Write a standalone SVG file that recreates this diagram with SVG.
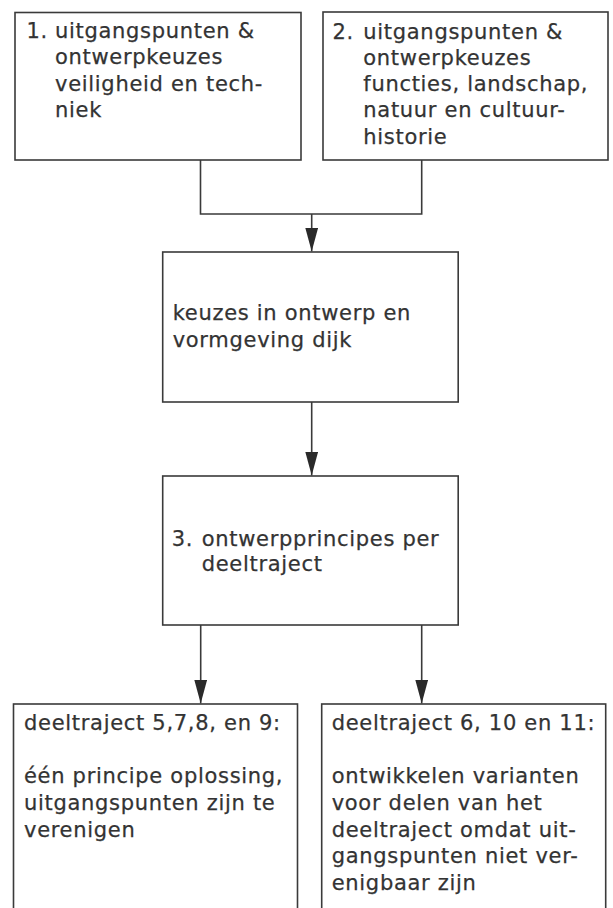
<svg xmlns="http://www.w3.org/2000/svg" width="613" height="908" viewBox="0 0 613 908">
<defs>
<style>
.box{fill:#fff;stroke:#3a3a3a;stroke-width:1.6}
.t{font-family:"DejaVu Sans",sans-serif;font-size:21px;letter-spacing:0.7px;fill:#333;stroke:#333;stroke-width:0.25}
.ln{fill:none;stroke:#3a3a3a;stroke-width:1.6}
</style>
<marker id="ah" viewBox="0 0 24 13" refX="24" refY="6.5" markerWidth="24" markerHeight="13" markerUnits="userSpaceOnUse" orient="auto">
<path d="M0,0 L24,6.5 L0,13 Z" fill="#2a2a2a"/>
</marker>
</defs>
<rect width="613" height="908" fill="#fff"/>
<g id="connectors">
<path class="ln" d="M200.5,160 V214 H421.7 V160"/>
<path class="ln" d="M311.7,214 V251.5" marker-end="url(#ah)"/>
<path class="ln" d="M311.7,402 V475.5" marker-end="url(#ah)"/>
<path class="ln" d="M200.7,625 V703.5" marker-end="url(#ah)"/>
<path class="ln" d="M421.7,625 V703.5" marker-end="url(#ah)"/>
</g>
<g id="n1">
<rect class="box" x="15" y="12.5" width="286" height="147.5"/>
<text class="t" x="26.5" y="37.5">1.</text>
<text class="t" x="55" y="37.5">uitgangspunten &amp;</text>
<text class="t" x="55" y="64">ontwerpkeuzes</text>
<text class="t" x="55" y="90.5">veiligheid en tech-</text>
<text class="t" x="55" y="117">niek</text>
</g>
<g id="n2">
<rect class="box" x="323" y="12" width="285" height="148"/>
<text class="t" x="332.5" y="38.5">2.</text>
<text class="t" x="363.3" y="38.5">uitgangspunten &amp;</text>
<text class="t" x="363.3" y="64.8">ontwerpkeuzes</text>
<text class="t" x="363.3" y="91.1">functies, landschap,</text>
<text class="t" x="363.3" y="117.4">natuur en cultuur-</text>
<text class="t" x="363.3" y="143.7">historie</text>
</g>
<g id="n3">
<rect class="box" x="162.7" y="252" width="295.5" height="150"/>
<text class="t" x="172.7" y="320">keuzes in ontwerp en</text>
<text class="t" x="172.7" y="346.5">vormgeving dijk</text>
</g>
<g id="n4">
<rect class="box" x="162.7" y="476" width="295.5" height="149"/>
<text class="t" x="171.7" y="546">3.</text>
<text class="t" x="201.7" y="546">ontwerpprincipes per</text>
<text class="t" x="201.7" y="571">deeltraject</text>
</g>
<g id="n5">
<rect class="box" x="13.5" y="704" width="284" height="220"/>
<text class="t" x="24" y="730">deeltraject 5,7,8, en 9:</text>
<text class="t" x="24" y="783.3">één principe oplossing,</text>
<text class="t" x="24" y="810">uitgangspunten zijn te</text>
<text class="t" x="24" y="836.7">verenigen</text>
</g>
<g id="n6">
<rect class="box" x="321.7" y="704" width="284" height="220"/>
<text class="t" x="331.7" y="730">deeltraject 6, 10 en 11:</text>
<text class="t" x="331.7" y="783.3">ontwikkelen varianten</text>
<text class="t" x="331.7" y="810">voor delen van het</text>
<text class="t" x="331.7" y="836.7">deeltraject omdat uit-</text>
<text class="t" x="331.7" y="863.3">gangspunten niet ver-</text>
<text class="t" x="331.7" y="890">enigbaar zijn</text>
</g>
</svg>
